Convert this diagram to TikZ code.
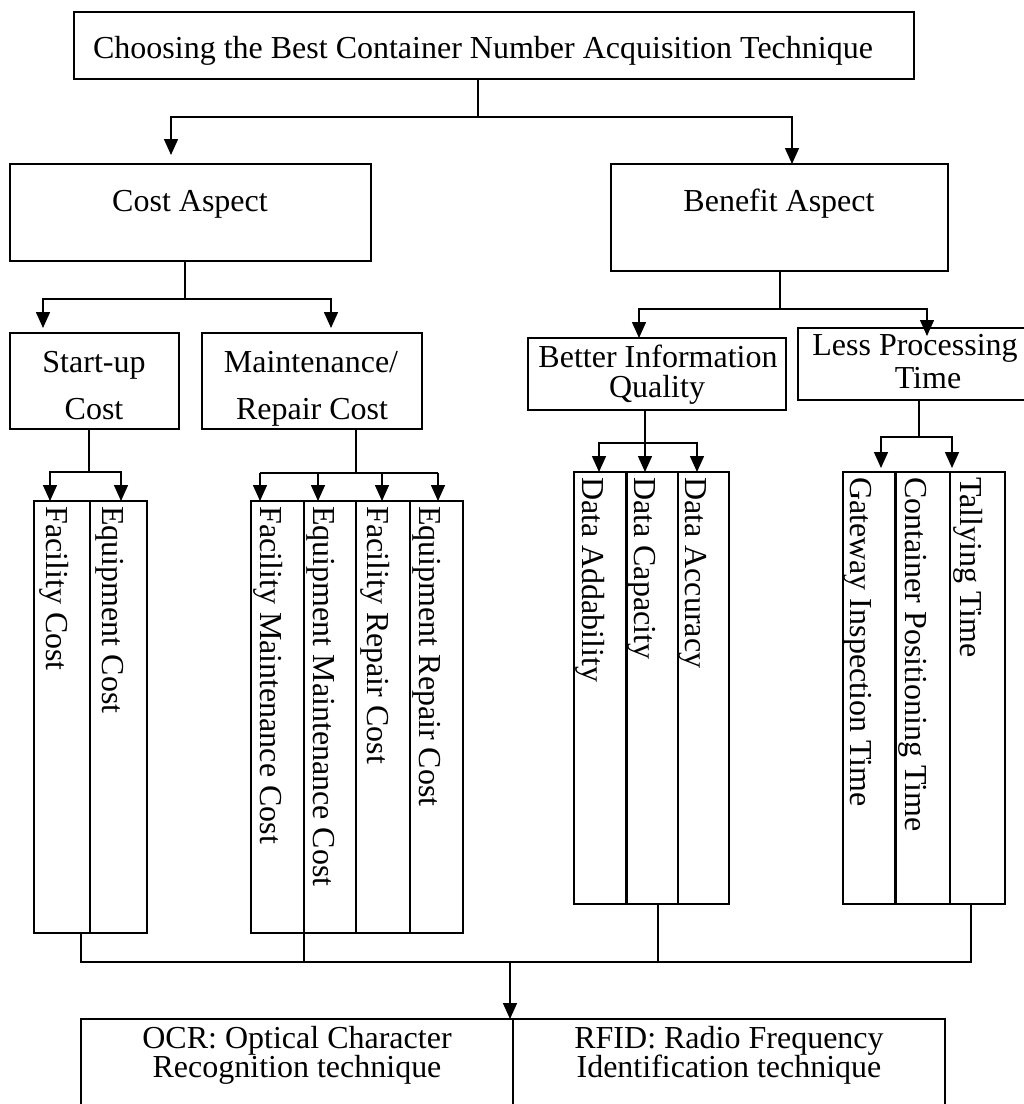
\documentclass[tikz,border=0pt]{standalone}
\usepackage{fontspec}
\setmainfont{Liberation Serif}
\usetikzlibrary{arrows.meta}
\tikzset{
 bx/.style={draw, line width=1.6pt, inner sep=0pt, outer sep=0pt},
 colbox/.style={draw, line width=1.3pt, inner sep=0pt, outer sep=0pt},
 txt/.style={anchor=base, inner sep=0pt, font=\fontsize{32}{38}\selectfont},
 coltext/.style={rotate=-90, anchor=base west, inner sep=0pt, font=\fontsize{32}{38}\selectfont},
 ln/.style={line width=1.5pt},
 arr/.style={line width=1.5pt, -{Triangle[length=16pt,width=14pt]}},
}
\newcommand\mycol[7]{%
 \node[colbox, minimum width={#3-#2}, minimum height={#5-#4}] (#1) at ({(#2+#3)/2},{(#4+#5)/2}) {};
 \node[coltext] (#1t) at ({#2+#7},{#4+5}) {#6};
}
\begin{document}
\begin{tikzpicture}[x=1pt,y=-1pt]
\useasboundingbox (0,0) rectangle (1024,1104);
\clip (0,0) rectangle (1024,1104);

% main boxes
\node[bx, minimum width=840pt, minimum height=67pt] (top) at (494,45.5) {};
\node[txt] (topT) at (483,58) {Choosing the Best Container Number Acquisition Technique};

\node[bx, minimum width=361pt, minimum height=97pt] (cost) at (190.5,212.5) {};
\node[txt] (costT) at (190,211) {Cost Aspect};
\node[bx, minimum width=337pt, minimum height=107pt] (benefit) at (779.5,217.5) {};
\node[txt] (benefitT) at (779,211) {Benefit Aspect};

\node[bx, minimum width=169pt, minimum height=96pt] (startup) at (94.5,381) {};
\node[txt] (startupT1) at (94,372) {Start-up};
\node[txt] (startupT2) at (94,419) {Cost};
\node[bx, minimum width=220pt, minimum height=96pt] (maint) at (312,381) {};
\node[txt] (maintT1) at (311,372) {Maintenance/};
\node[txt] (maintT2) at (312,419) {Repair Cost};

\node[bx, minimum width=258pt, minimum height=72pt] (better) at (657,374) {};
\node[txt] (betterT1) at (658,367) {Better Information};
\node[txt] (betterT2) at (657,397) {Quality};
\node[bx, minimum width=236pt, minimum height=72pt] (less) at (916,364) {};
\node[txt] (lessT1) at (915,355) {Less Processing};
\node[txt] (lessT2) at (928,388) {Time};

% columns
\mycol{c1}{34}{90}{501}{933}{Facility Cost}{12}
\mycol{c2}{90}{147}{501}{933}{Equipment Cost}{12}
\mycol{c3}{251}{304}{501}{933}{Facility Maintenance Cost}{9}
\mycol{c4}{304}{356}{501}{933}{Equipment Maintenance Cost}{9}
\mycol{c5}{356}{410}{501}{933}{Facility Repair Cost}{11}
\mycol{c6}{410}{463}{501}{933}{Equipment Repair Cost}{9}
\mycol{c7}{574}{626}{472}{904}{Data Addability}{8}
\mycol{c8}{626}{678}{472}{904}{Data Capacity}{8}
\mycol{c9}{678}{729}{472}{904}{Data Accuracy}{7}
\mycol{c10}{843}{895}{472}{904}{Gateway Inspection Time}{7}
\mycol{c11}{895}{950}{472}{904}{Container Positioning Time}{10}
\mycol{c12}{950}{1005}{472}{904}{Tallying Time}{10}
\draw[line width=3pt] (c7.north east) -- (c7.south east);
\draw[line width=3pt] (c10.north east) -- (c10.south east);

% bottom boxes
\node[bx, minimum width=432pt, minimum height=130pt] (ocr) at (297,1084) {};
\node[txt] (ocrT1) at (297,1048) {OCR: Optical Character};
\node[txt] (ocrT2) at (297,1077) {Recognition technique};
\node[bx, minimum width=432pt, minimum height=130pt] (rfid) at (729,1084) {};
\node[txt] (rfidT1) at (729,1048) {RFID: Radio Frequency};
\node[txt] (rfidT2) at (729,1077) {Identification technique};

% connectors: top level
\coordinate (j0) at (478,117);
\coordinate (a1) at (171,155);
\draw[ln] (top.south -| j0) -- (j0);
\draw[arr] (j0) -| (a1);
\draw[arr] (j0) -| (benefit.north -| 792,0);

% cost
\coordinate (j1) at (185,299);
\coordinate (a2) at (43,328);
\coordinate (a3) at (331,328);
\draw[ln] (cost.south -| j1) -- (j1);
\draw[arr] (j1) -| (a2);
\draw[arr] (j1) -| (a3);

% benefit
\coordinate (j2) at (780,309);
\coordinate (a5) at (927,336);
\draw[ln] (benefit.south -| j2) -- (j2);
\draw[arr] (j2) -| (better.north -| 639,0);
\draw[arr] (j2) -| (a5);

% start-up
\coordinate (j3) at (89,472);
\draw[ln] (startup.south -| j3) -- (j3);
\draw[arr] (j3) -| (c1.north -| 50,0);
\draw[arr] (j3) -| (c2.north -| 121,0);

% maintenance
\coordinate (j4) at (356,473);
\draw[ln] (maint.south -| j4) -- (j4);
\draw[ln] (260,473) -- (438,473);
\draw[arr] (260,473) -- (c3.north -| 260,0);
\draw[arr] (318,473) -- (c4.north -| 318,0);
\draw[arr] (382,473) -- (c5.north -| 382,0);
\draw[arr] (438,473) -- (c6.north -| 438,0);

% better
\coordinate (j5) at (645,443);
\draw[arr] (better.south -| j5) -- (c8.north -| j5);
\draw[arr] (j5) -| (c7.north -| 599,0);
\draw[arr] (j5) -| (c9.north -| 697,0);

% less
\coordinate (j6) at (919,437);
\coordinate (a6) at (881,468);
\coordinate (a7) at (952,468);
\draw[ln] (less.south -| j6) -- (j6);
\draw[arr] (j6) -| (a6);
\draw[arr] (j6) -| (a7);

% bottom collector
\coordinate (jl) at (81,962);
\coordinate (jr) at (971,962);
\coordinate (jb) at (510,962);
\draw[ln] (c1.south -| jl) -- (jl) -- (jr) -- (c12.south -| jr);
\draw[ln] (c3.south east) -- (c3.south east |- jl);
\draw[ln] (c8.south -| 658,0) -- (658,962);
\draw[arr] (jb) -- (ocr.north -| jb);
\end{tikzpicture}
\end{document}
